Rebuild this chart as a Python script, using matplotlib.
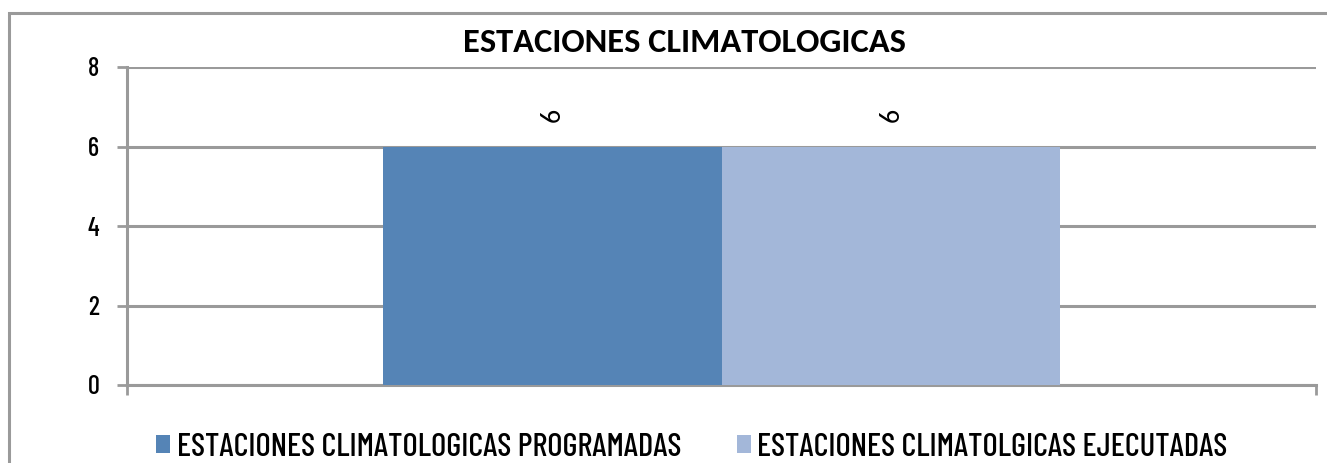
import matplotlib.pyplot as plt
from matplotlib.patches import Rectangle

# data
categories = ['']
series_names = ['ESTACIONES CLIMATOLOGICAS PROGRAMADAS',
                'ESTACIONES CLIMATOLGICAS EJECUTADAS']
programadas = [6]
ejecutadas = [6]
colors = ['#5584B6', '#A3B7D9']
yticks = [0, 2, 4, 6, 8]

NARROW = ['Barlow Condensed', 'PT Sans Narrow', 'DejaVu Sans']
plt.rcParams['font.family'] = NARROW
plt.rcParams['font.weight'] = 500
GRAY = '#9A9A9A'

fig = plt.figure(figsize=(13.27, 4.63), dpi=100)
ax = fig.add_axes([127 / 1327, 1 - 385 / 463, (1316 - 127) / 1327, (385 - 67) / 463])

# outer chart border (right and bottom edges fall outside the picture)
fig.patches.append(Rectangle((9 / 1327, -0.05), 1.2, 1 - 13 / 463 + 0.05,
                             transform=fig.transFigure, fill=False,
                             edgecolor=GRAY, linewidth=2.2, zorder=0))

width = 0.285
x = list(range(len(categories)))
b1 = ax.bar([i - width / 2 for i in x], programadas, width, color=colors[0],
            label=series_names[0], zorder=3)
b2 = ax.bar([i + width / 2 for i in x], ejecutadas, width, color=colors[1],
            label=series_names[1], zorder=3)

for bars in (b1, b2):
    for rect in bars:
        ax.annotate(f'{rect.get_height():g}',
                    (rect.get_x() + rect.get_width() / 2, rect.get_height()),
                    xytext=(0, 18), textcoords='offset points',
                    ha='center', va='bottom', rotation=90, fontsize=20,
                    family=['Carlito'], fontweight='normal')

ax.set_xlim(-0.5, 0.5)
ax.set_ylim(0, 8)
ax.set_yticks(yticks)
ax.set_xticks([-0.5, 0.5])
ax.set_xticklabels([])
ax.tick_params(axis='y', length=7, width=2, color=GRAY, labelsize=19, pad=13)
ax.tick_params(axis='x', length=7, width=2, color=GRAY, direction='out')
ax.grid(axis='y', color=GRAY, linewidth=2.2, zorder=1)

for side in ('top', 'right'):
    ax.spines[side].set_visible(False)
for side in ('left', 'bottom'):
    ax.spines[side].set_color(GRAY)
    ax.spines[side].set_linewidth(2.2)

fig.text(684 / 1327, 1 - 43 / 463, 'ESTACIONES CLIMATOLOGICAS', ha='center', va='center',
         fontsize=24.8, fontweight='bold', family=['Carlito'])

fig.legend(handles=[b1, b2], loc='center', bbox_to_anchor=(692 / 1327, 1 - 447 / 463),
           ncol=2, frameon=False, fontsize=23.5, handlelength=0.43, handleheight=0.49,
           handletextpad=0.2, columnspacing=1.7, borderaxespad=0)

fig.savefig('out.png', dpi=100)
